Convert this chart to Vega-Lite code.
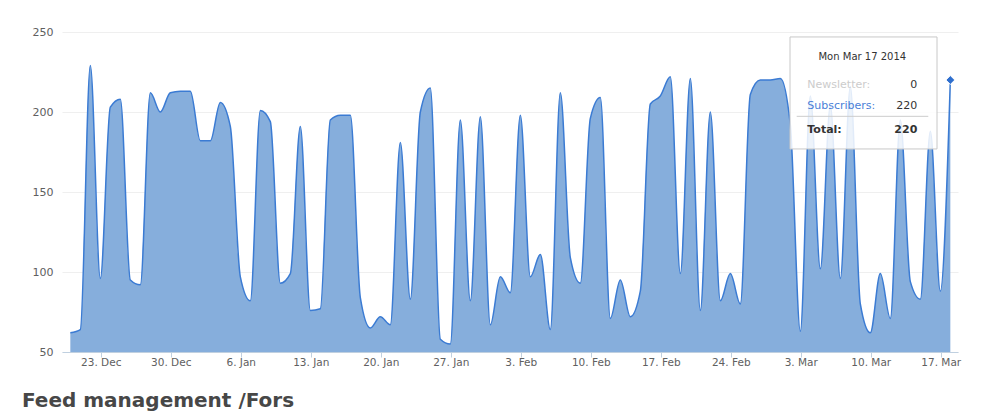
{
  "$schema": "https://vega.github.io/schema/vega-lite/v6.json",
  "autosize": {"type": "none"},
  "padding": {"left": 62, "top": 32, "right": 32, "bottom": 68},
  "width": 896,
  "height": 320,
  "background": "white",
  "config": {
    "view": {"stroke": null},
    "font": "DejaVu Sans",
    "axis": {"labelFont": "DejaVu Sans", "labelColor": "#606060"}
  },
  "title": {
    "text": "Feed management /Fors",
    "orient": "bottom",
    "anchor": "start",
    "frame": "group",
    "dx": -40,
    "offset": 39,
    "baseline": "alphabetic",
    "font": "DejaVu Sans",
    "fontSize": 20,
    "fontWeight": "bold",
    "color": "#474747"
  },
  "data": {
    "values": [
      {"date": "2013-12-19T23:00:00Z", "subscribers": 62},
      {"date": "2013-12-20T23:00:00Z", "subscribers": 64},
      {"date": "2013-12-21T23:00:00Z", "subscribers": 229},
      {"date": "2013-12-22T23:00:00Z", "subscribers": 96},
      {"date": "2013-12-23T23:00:00Z", "subscribers": 203},
      {"date": "2013-12-24T23:00:00Z", "subscribers": 208},
      {"date": "2013-12-25T23:00:00Z", "subscribers": 95},
      {"date": "2013-12-26T23:00:00Z", "subscribers": 92},
      {"date": "2013-12-27T23:00:00Z", "subscribers": 212},
      {"date": "2013-12-28T23:00:00Z", "subscribers": 200},
      {"date": "2013-12-29T23:00:00Z", "subscribers": 212},
      {"date": "2013-12-30T23:00:00Z", "subscribers": 213},
      {"date": "2013-12-31T23:00:00Z", "subscribers": 213},
      {"date": "2014-01-01T23:00:00Z", "subscribers": 182},
      {"date": "2014-01-02T23:00:00Z", "subscribers": 182},
      {"date": "2014-01-03T23:00:00Z", "subscribers": 206},
      {"date": "2014-01-04T23:00:00Z", "subscribers": 191},
      {"date": "2014-01-05T23:00:00Z", "subscribers": 97},
      {"date": "2014-01-06T23:00:00Z", "subscribers": 82},
      {"date": "2014-01-07T23:00:00Z", "subscribers": 201},
      {"date": "2014-01-08T23:00:00Z", "subscribers": 194},
      {"date": "2014-01-09T23:00:00Z", "subscribers": 93},
      {"date": "2014-01-10T23:00:00Z", "subscribers": 99},
      {"date": "2014-01-11T23:00:00Z", "subscribers": 191},
      {"date": "2014-01-12T23:00:00Z", "subscribers": 76},
      {"date": "2014-01-13T23:00:00Z", "subscribers": 77},
      {"date": "2014-01-14T23:00:00Z", "subscribers": 195},
      {"date": "2014-01-15T23:00:00Z", "subscribers": 198},
      {"date": "2014-01-16T23:00:00Z", "subscribers": 198},
      {"date": "2014-01-17T23:00:00Z", "subscribers": 84},
      {"date": "2014-01-18T23:00:00Z", "subscribers": 65},
      {"date": "2014-01-19T23:00:00Z", "subscribers": 72},
      {"date": "2014-01-20T23:00:00Z", "subscribers": 67},
      {"date": "2014-01-21T23:00:00Z", "subscribers": 181},
      {"date": "2014-01-22T23:00:00Z", "subscribers": 83},
      {"date": "2014-01-23T23:00:00Z", "subscribers": 200},
      {"date": "2014-01-24T23:00:00Z", "subscribers": 215},
      {"date": "2014-01-25T23:00:00Z", "subscribers": 58},
      {"date": "2014-01-26T23:00:00Z", "subscribers": 55},
      {"date": "2014-01-27T23:00:00Z", "subscribers": 195},
      {"date": "2014-01-28T23:00:00Z", "subscribers": 82},
      {"date": "2014-01-29T23:00:00Z", "subscribers": 197},
      {"date": "2014-01-30T23:00:00Z", "subscribers": 67},
      {"date": "2014-01-31T23:00:00Z", "subscribers": 97},
      {"date": "2014-02-01T23:00:00Z", "subscribers": 87},
      {"date": "2014-02-02T23:00:00Z", "subscribers": 198},
      {"date": "2014-02-03T23:00:00Z", "subscribers": 97},
      {"date": "2014-02-04T23:00:00Z", "subscribers": 111},
      {"date": "2014-02-05T23:00:00Z", "subscribers": 64},
      {"date": "2014-02-06T23:00:00Z", "subscribers": 212},
      {"date": "2014-02-07T23:00:00Z", "subscribers": 109},
      {"date": "2014-02-08T23:00:00Z", "subscribers": 93},
      {"date": "2014-02-09T23:00:00Z", "subscribers": 196},
      {"date": "2014-02-10T23:00:00Z", "subscribers": 209},
      {"date": "2014-02-11T23:00:00Z", "subscribers": 71},
      {"date": "2014-02-12T23:00:00Z", "subscribers": 95},
      {"date": "2014-02-13T23:00:00Z", "subscribers": 72},
      {"date": "2014-02-14T23:00:00Z", "subscribers": 88},
      {"date": "2014-02-15T23:00:00Z", "subscribers": 205},
      {"date": "2014-02-16T23:00:00Z", "subscribers": 210},
      {"date": "2014-02-17T23:00:00Z", "subscribers": 222},
      {"date": "2014-02-18T23:00:00Z", "subscribers": 99},
      {"date": "2014-02-19T23:00:00Z", "subscribers": 221},
      {"date": "2014-02-20T23:00:00Z", "subscribers": 76},
      {"date": "2014-02-21T23:00:00Z", "subscribers": 200},
      {"date": "2014-02-22T23:00:00Z", "subscribers": 82},
      {"date": "2014-02-23T23:00:00Z", "subscribers": 99},
      {"date": "2014-02-24T23:00:00Z", "subscribers": 80},
      {"date": "2014-02-25T23:00:00Z", "subscribers": 211},
      {"date": "2014-02-26T23:00:00Z", "subscribers": 220},
      {"date": "2014-02-27T23:00:00Z", "subscribers": 220},
      {"date": "2014-02-28T23:00:00Z", "subscribers": 221},
      {"date": "2014-03-01T23:00:00Z", "subscribers": 192},
      {"date": "2014-03-02T23:00:00Z", "subscribers": 63},
      {"date": "2014-03-03T23:00:00Z", "subscribers": 210},
      {"date": "2014-03-04T23:00:00Z", "subscribers": 102},
      {"date": "2014-03-05T23:00:00Z", "subscribers": 204},
      {"date": "2014-03-06T23:00:00Z", "subscribers": 96},
      {"date": "2014-03-07T23:00:00Z", "subscribers": 216},
      {"date": "2014-03-08T23:00:00Z", "subscribers": 80},
      {"date": "2014-03-09T23:00:00Z", "subscribers": 62},
      {"date": "2014-03-10T23:00:00Z", "subscribers": 99},
      {"date": "2014-03-11T23:00:00Z", "subscribers": 71},
      {"date": "2014-03-12T23:00:00Z", "subscribers": 195},
      {"date": "2014-03-13T23:00:00Z", "subscribers": 94},
      {"date": "2014-03-14T23:00:00Z", "subscribers": 83},
      {"date": "2014-03-15T23:00:00Z", "subscribers": 188},
      {"date": "2014-03-16T23:00:00Z", "subscribers": 88},
      {"date": "2014-03-17T23:00:00Z", "subscribers": 220}
    ]
  },
  "encoding": {
    "x": {
      "field": "date",
      "type": "temporal",
      "title": null,
      "scale": {
        "type": "utc",
        "domain": [
          {"year": 2013, "month": 12, "date": 19, "hours": 3, "utc": true},
          {"year": 2014, "month": 3, "date": 18, "hours": 17, "minutes": 24, "utc": true}
        ]
      },
      "axis": {
        "values": [
          {"year": 2013, "month": 12, "date": 23, "utc": true},
          {"year": 2013, "month": 12, "date": 30, "utc": true},
          {"year": 2014, "month": 1, "date": 6, "utc": true},
          {"year": 2014, "month": 1, "date": 13, "utc": true},
          {"year": 2014, "month": 1, "date": 20, "utc": true},
          {"year": 2014, "month": 1, "date": 27, "utc": true},
          {"year": 2014, "month": 2, "date": 3, "utc": true},
          {"year": 2014, "month": 2, "date": 10, "utc": true},
          {"year": 2014, "month": 2, "date": 17, "utc": true},
          {"year": 2014, "month": 2, "date": 24, "utc": true},
          {"year": 2014, "month": 3, "date": 3, "utc": true},
          {"year": 2014, "month": 3, "date": 10, "utc": true},
          {"year": 2014, "month": 3, "date": 17, "utc": true}
        ],
        "labelExpr": "utcFormat(datum.value, '%-d. %b')",
        "grid": false,
        "domainColor": "#C0D0E0",
        "tickColor": "#C0D0E0",
        "tickSize": 5,
        "labelPadding": 0,
        "labelFontSize": 10.5,
        "labelAngle": 0
      }
    },
    "y": {
      "field": "subscribers",
      "type": "quantitative",
      "title": null,
      "scale": {"domain": [50, 250], "nice": false, "zero": false},
      "axis": {
        "values": [50, 100, 150, 200, 250],
        "domain": false,
        "ticks": false,
        "tickSize": 0,
        "labelPadding": 9,
        "labelFontSize": 11,
        "gridColor": "#efefef",
        "gridWidth": 1
      }
    }
  },
  "layer": [
    {
      "mark": {
        "type": "area",
        "interpolate": "monotone",
        "color": "#86aedc",
        "opacity": 1,
        "clip": true,
        "line": {"color": "#3b7bd3", "strokeWidth": 1.5}
      }
    },
    {
      "layer": [
        {
          "mark": {"type": "point", "shape": "diamond", "filled": true, "size": 80, "color": "#2f6fce", "stroke": "white", "strokeWidth": 1, "opacity": 1}
        },
        {
          "mark": {"type": "rect", "fill": "white", "fillOpacity": 0.85, "stroke": "#c8c8c8", "strokeWidth": 1},
          "encoding": {
            "x": {"datum": {"year": 2014, "month": 3, "date": 1, "hours": 22, "minutes": 12, "utc": true}, "type": "temporal"},
            "x2": {"datum": {"year": 2014, "month": 3, "date": 16, "hours": 15, "utc": true}},
            "y": {"datum": 246.9, "type": "quantitative"},
            "y2": {"datum": 176.9}
          }
        },
        {
          "mark": {"type": "rule", "color": "#cccccc", "strokeWidth": 1},
          "encoding": {
            "x": {"datum": {"year": 2014, "month": 3, "date": 2, "hours": 14, "minutes": 17, "utc": true}, "type": "temporal"},
            "x2": {"datum": {"year": 2014, "month": 3, "date": 15, "hours": 18, "minutes": 7, "utc": true}},
            "y": {"datum": 197.3, "type": "quantitative"}
          }
        },
        {
          "mark": {"type": "text", "text": "Mon Mar 17 2014", "align": "center", "baseline": "middle", "fontSize": 10, "color": "#333333"},
          "encoding": {
            "x": {"datum": {"year": 2014, "month": 3, "date": 9, "hours": 3, "minutes": 45, "utc": true}, "type": "temporal"},
            "y": {"datum": 234.4, "type": "quantitative"}
          }
        },
        {
          "mark": {"type": "text", "text": "Newsletter:", "align": "left", "baseline": "middle", "fontSize": 11, "color": "#cccccc"},
          "encoding": {
            "x": {"datum": {"year": 2014, "month": 3, "date": 3, "hours": 15, "minutes": 43, "utc": true}, "type": "temporal"},
            "y": {"datum": 217, "type": "quantitative"}
          }
        },
        {
          "mark": {"type": "text", "text": "0", "align": "right", "baseline": "middle", "fontSize": 11, "color": "#333333"},
          "encoding": {
            "x": {"datum": {"year": 2014, "month": 3, "date": 14, "hours": 15, "minutes": 43, "utc": true}, "type": "temporal"},
            "y": {"datum": 217, "type": "quantitative"}
          }
        },
        {
          "mark": {"type": "text", "text": "Subscribers:", "align": "left", "baseline": "middle", "fontSize": 11, "color": "#4a7fd8"},
          "encoding": {
            "x": {"datum": {"year": 2014, "month": 3, "date": 3, "hours": 15, "minutes": 43, "utc": true}, "type": "temporal"},
            "y": {"datum": 204, "type": "quantitative"}
          }
        },
        {
          "mark": {"type": "text", "align": "right", "baseline": "middle", "fontSize": 11, "color": "#333333"},
          "encoding": {
            "text": {"field": "subscribers", "type": "quantitative"},
            "x": {"datum": {"year": 2014, "month": 3, "date": 14, "hours": 15, "minutes": 43, "utc": true}, "type": "temporal"},
            "y": {"datum": 204, "type": "quantitative"}
          }
        },
        {
          "mark": {"type": "text", "text": "Total:", "align": "left", "baseline": "middle", "fontSize": 11, "fontWeight": "bold", "color": "#333333"},
          "encoding": {
            "x": {"datum": {"year": 2014, "month": 3, "date": 3, "hours": 15, "minutes": 43, "utc": true}, "type": "temporal"},
            "y": {"datum": 189, "type": "quantitative"}
          }
        },
        {
          "mark": {"type": "text", "align": "right", "baseline": "middle", "fontSize": 11, "fontWeight": "bold", "color": "#333333"},
          "encoding": {
            "text": {"field": "subscribers", "type": "quantitative"},
            "x": {"datum": {"year": 2014, "month": 3, "date": 14, "hours": 15, "minutes": 43, "utc": true}, "type": "temporal"},
            "y": {"datum": 189, "type": "quantitative"}
          }
        }
      ],
      "transform": [
        {"filter": "utcmonth(toDate(datum.date)) == 2 && utcdate(toDate(datum.date)) == 17"}
      ]
    }
  ]
}
